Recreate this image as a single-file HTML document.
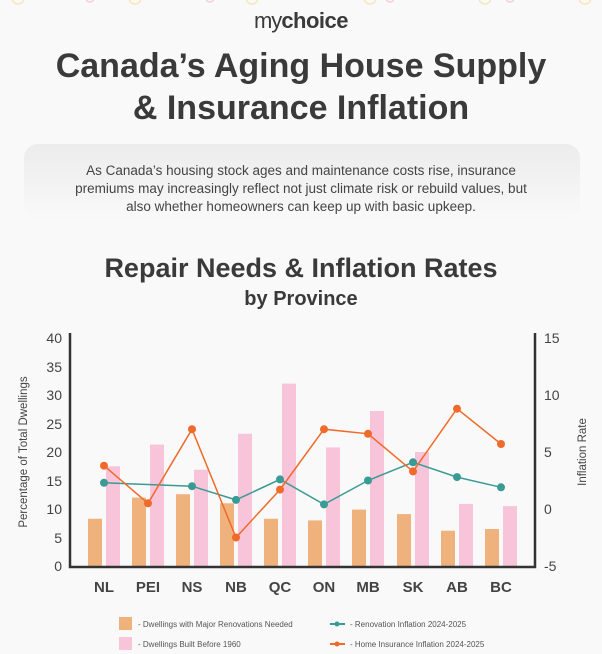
<!DOCTYPE html>
<html><head><meta charset="utf-8"><style>
html,body{margin:0;padding:0;background:#f9f9f9;}
svg{display:block;font-family:"Liberation Sans",sans-serif;}
</style></head><body>
<svg width="602" height="654" viewBox="0 0 602 654" xmlns="http://www.w3.org/2000/svg">
<rect width="602" height="654" fill="#f9f9f9"/>
<g fill="none" stroke-width="1.5" opacity="0.5">
<circle cx="18" cy="-2" r="6" stroke="#f3d27a"/><circle cx="135" cy="-2" r="6" stroke="#f3d27a"/><circle cx="252" cy="-2" r="6" stroke="#f3d27a"/><circle cx="370" cy="-2" r="6" stroke="#f3d27a"/><circle cx="485" cy="-2" r="6" stroke="#f3d27a"/><circle cx="585" cy="-2" r="6" stroke="#f3d27a"/>
<circle cx="90" cy="-2" r="4" stroke="#f5a8c0"/><circle cx="210" cy="-2" r="4" stroke="#f5a8c0"/><circle cx="390" cy="-2" r="4" stroke="#f5a8c0"/><circle cx="510" cy="-2" r="4" stroke="#f5a8c0"/>
</g>
<text x="301" y="28" text-anchor="middle" font-size="22" fill="#3a3a3a"><tspan font-weight="normal" letter-spacing="-1">my</tspan><tspan font-weight="bold" letter-spacing="-0.5">choice</tspan></text>
<text x="301" y="77" text-anchor="middle" font-size="34" font-weight="bold" fill="#3a3a3a">Canada’s Aging House Supply</text>
<text x="301" y="119" text-anchor="middle" font-size="34" font-weight="bold" fill="#3a3a3a">&amp; Insurance Inflation</text>
<defs><linearGradient id="g" x1="0" y1="0" x2="0" y2="1"><stop offset="0" stop-color="#ececec"/><stop offset="1" stop-color="#f9f9f9"/></linearGradient></defs>
<rect x="24" y="144" width="556" height="76" rx="14" fill="url(#g)"/>
<g font-size="13.5" fill="#444" text-anchor="middle">
<text x="301" y="175">As Canada’s housing stock ages and maintenance costs rise, insurance</text>
<text x="301" y="193">premiums may increasingly reflect not just climate risk or rebuild values, but</text>
<text x="301" y="211">also whether homeowners can keep up with basic upkeep.</text>
</g>
<text x="301" y="277" text-anchor="middle" font-size="27" font-weight="bold" fill="#3a3a3a">Repair Needs &amp; Inflation Rates</text>
<text x="301" y="305" text-anchor="middle" font-size="20" font-weight="bold" fill="#3a3a3a">by Province</text>

<g fill="#f0b27d">
<rect x="88" y="518.7" width="14" height="47.3"/>
<rect x="132" y="497.6" width="14" height="68.4"/>
<rect x="176" y="494.2" width="14" height="71.8"/>
<rect x="220" y="503.3" width="14" height="62.7"/>
<rect x="264" y="518.7" width="14" height="47.3"/>
<rect x="308" y="520.4" width="14" height="45.6"/>
<rect x="352" y="509.6" width="14" height="56.4"/>
<rect x="397" y="514.1" width="14" height="51.9"/>
<rect x="441" y="530.7" width="14" height="35.3"/>
<rect x="485" y="529" width="14" height="37"/>
</g>
<g fill="#f7c4da">
<rect x="106" y="466.3" width="14" height="99.7"/>
<rect x="150" y="444.6" width="14" height="121.4"/>
<rect x="194" y="469.7" width="14" height="96.3"/>
<rect x="238" y="433.8" width="14" height="132.2"/>
<rect x="282" y="383.6" width="14" height="182.4"/>
<rect x="326" y="447.4" width="14" height="118.6"/>
<rect x="370" y="411" width="14" height="155"/>
<rect x="415" y="452" width="14" height="114"/>
<rect x="459" y="503.9" width="14" height="62.1"/>
<rect x="503" y="506.1" width="14" height="59.9"/>
</g>
<polyline fill="none" stroke="#3a9a94" stroke-width="1.5" points="104,482.8 148,484.5 192,486.2 236,499.9 280,479.4 324,504.4 368,480.5 413,462.3 457,477.1 501,487.3"/>
<g fill="#3a9a94">
<circle cx="104" cy="482.8" r="4"/><circle cx="192" cy="486.2" r="4"/><circle cx="236" cy="499.9" r="4"/><circle cx="280" cy="479.4" r="4"/><circle cx="324" cy="504.4" r="4"/><circle cx="368" cy="480.5" r="4"/><circle cx="413" cy="462.3" r="4"/><circle cx="457" cy="477.1" r="4"/><circle cx="501" cy="487.3" r="4"/>
</g>
<polyline fill="none" stroke="#f06a2a" stroke-width="1.5" points="104,465.7 148,503.3 192,429.2 236,537.5 280,489.6 324,429.2 368,433.8 413,471.4 457,408.7 501,444"/>
<g fill="#f06a2a">
<circle cx="104" cy="465.7" r="4"/><circle cx="148" cy="503.3" r="4"/><circle cx="192" cy="429.2" r="4"/><circle cx="236" cy="537.5" r="4"/><circle cx="280" cy="489.6" r="4"/><circle cx="324" cy="429.2" r="4"/><circle cx="368" cy="433.8" r="4"/><circle cx="413" cy="471.4" r="4"/><circle cx="457" cy="408.7" r="4"/><circle cx="501" cy="444" r="4"/>
</g>
<path d="M70,333 V567 H535 V333" fill="none" stroke="#333" stroke-width="2.5"/>
<g font-size="14" fill="#444" text-anchor="end">
<text x="62" y="343">40</text><text x="62" y="372">35</text><text x="62" y="400">30</text><text x="62" y="429">25</text><text x="62" y="457">20</text><text x="62" y="486">15</text><text x="62" y="514">10</text><text x="62" y="543">5</text><text x="62" y="571">0</text>
</g>
<g font-size="14" fill="#444">
<text x="544" y="343">15</text><text x="544" y="400">10</text><text x="544" y="457">5</text><text x="544" y="514">0</text><text x="544" y="571">-5</text>
</g>
<text transform="translate(27,452) rotate(-90)" text-anchor="middle" font-size="11.5" fill="#444">Percentage of Total Dwellings</text>
<text transform="translate(586,452) rotate(-90)" text-anchor="middle" font-size="11.5" fill="#444">Inflation Rate</text>
<g font-size="15" font-weight="bold" fill="#444" text-anchor="middle">
<text x="104" y="592">NL</text><text x="148" y="592">PEI</text><text x="192" y="592">NS</text><text x="236" y="592">NB</text><text x="280" y="592">QC</text><text x="324" y="592">ON</text><text x="368" y="592">MB</text><text x="413" y="592">SK</text><text x="457" y="592">AB</text><text x="501" y="592">BC</text>
</g>
<rect x="119" y="617" width="13" height="13" fill="#f0b27d"/>
<rect x="119" y="637" width="13" height="13" fill="#f7c4da"/>
<g font-size="8" fill="#555">
<text x="138" y="627">- Dwellings with Major Renovations Needed</text>
<text x="138" y="647">- Dwellings Built Before 1960</text>
<text x="350" y="627">- Renovation Inflation 2024-2025</text>
<text x="350" y="647">- Home Insurance Inflation 2024-2025</text>
</g>
<line x1="330" y1="624" x2="345" y2="624" stroke="#3a9a94" stroke-width="2"/><circle cx="337" cy="624" r="2.5" fill="#3a9a94"/>
<line x1="330" y1="644" x2="345" y2="644" stroke="#f06a2a" stroke-width="2"/><circle cx="337" cy="644" r="2.5" fill="#f06a2a"/>
</svg>
</body></html>
